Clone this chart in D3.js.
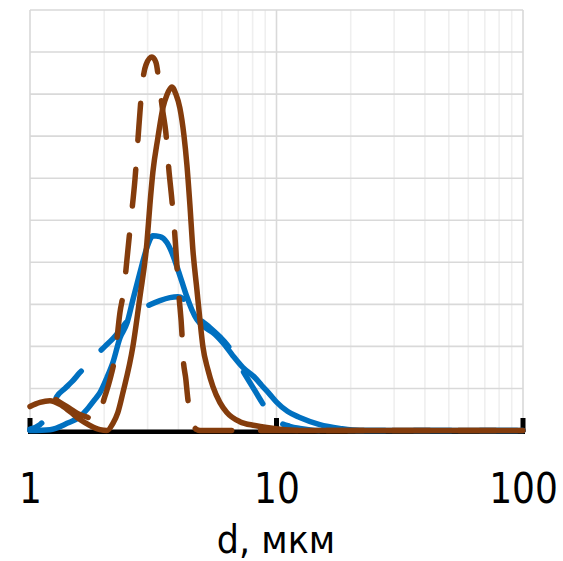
<!DOCTYPE html>
<html>
<head>
<meta charset="utf-8">
<script src="https://cdn.jsdelivr.net/npm/d3@7"></script>
<style>
  html, body { margin: 0; padding: 0; background: #ffffff; }
  svg { display: block; }
</style>
</head>
<body>
<svg id="chart" width="563" height="561"></svg>
<script>
// ---- data (d in µm, value) ----
const xTicks = [1, 10, 100];
const xTickLabels = ["1", "10", "100"];
const minorX = [2, 3, 4, 5, 6, 7, 8, 9, 20, 30, 40, 50, 60, 70, 80, 90];
const yGrid = [0, 1, 2, 3, 4, 5, 6, 7, 8, 9, 10];
const xTitle = "d, мкм";

const blueSolid = [
  [1.00, 0], [1.205, 0.02], [1.413, 0.17], [1.595, 0.33], [1.702, 0.50], [1.834, 0.74],
  [1.922, 0.90], [2.052, 1.26], [2.170, 1.62], [2.316, 2.20], [2.473, 2.55], [2.615, 3.11],
  [2.792, 3.75], [2.981, 4.35], [3.152, 4.63], [3.365, 4.61], [3.592, 4.47], [3.763, 4.23],
  [3.943, 3.90], [4.132, 3.54], [4.330, 3.18], [4.537, 2.87], [4.754, 2.64], [5.122, 2.45],
  [5.518, 2.33], [6.058, 2.09], [6.651, 1.78], [7.30, 1.50], [8.166, 1.26], [8.716, 1.07],
  [9.395, 0.86], [10.03, 0.67], [11.11, 0.45], [12.43, 0.31], [14.98, 0.14], [18.06, 0.05],
  [21.76, 0], [100, 0]
];
const blueDashed = [
  [1.00, 0.03], [1.098, 0.14], [1.15, 0.26], [1.205, 0.43], [1.286, 0.81], [1.386, 1.00],
  [1.480, 1.16], [1.595, 1.38], [1.718, 1.57], [1.869, 1.81], [2.014, 2.00], [2.150, 2.16],
  [2.316, 2.38], [2.473, 2.59], [2.665, 2.76], [2.871, 2.90], [3.065, 2.99], [3.365, 3.09],
  [3.694, 3.16], [3.981, 3.18], [4.171, 3.14], [4.371, 2.99], [4.579, 2.80], [4.889, 2.64],
  [5.366, 2.45], [5.890, 2.23], [6.347, 2.02], [6.776, 1.76], [7.100, 1.54], [7.580, 1.26],
  [8.166, 0.95], [8.964, 0.57], [9.570, 0.36], [10.31, 0.19], [11.32, 0.10], [12.43, 0.05],
  [14.98, 0], [100, 0]
];
const brownSolid = [
  [1.00, 0.57], [1.098, 0.67], [1.205, 0.71], [1.323, 0.62], [1.452, 0.45], [1.595, 0.26],
  [1.751, 0.12], [1.922, 0.02], [2.052, 0], [2.170, 0.17], [2.273, 0.43], [2.382, 0.90],
  [2.615, 2.00], [2.792, 3.18], [2.981, 4.47], [3.065, 5.37], [3.152, 6.15], [3.302, 6.96],
  [3.460, 7.67], [3.592, 7.98], [3.763, 8.17], [3.906, 8.00], [4.055, 7.67], [4.21, 7.03],
  [4.330, 6.32], [4.453, 5.37], [4.579, 4.30], [4.754, 3.35], [4.889, 2.64], [5.027, 2.00],
  [5.267, 1.45], [5.518, 1.05], [5.890, 0.67], [6.289, 0.43], [7.100, 0.21], [8.166, 0.12],
  [9.134, 0.07], [12.43, 0], [100, 0]
];
const brownDashed = [
  [1.00, 0.50], [1.098, 0.64], [1.172, 0.74], [1.240, 0.76], [1.323, 0.67], [1.452, 0.52],
  [1.565, 0.40], [1.718, 0.31], [1.886, 0.26], [1.995, 0.74], [2.110, 1.21], [2.211, 1.76],
  [2.316, 2.80], [2.404, 3.35], [2.473, 4.06], [2.567, 5.01], [2.665, 5.96], [2.740, 6.91],
  [2.818, 7.86], [2.871, 8.34], [2.953, 8.69], [3.123, 8.88], [3.241, 8.76], [3.365, 8.10],
  [3.460, 7.58], [3.558, 7.08], [3.659, 6.20], [3.763, 5.49], [3.834, 4.96], [3.906, 4.30],
  [4.018, 3.23], [4.132, 2.33], [4.171, 1.81], [4.289, 1.21], [4.371, 0.74], [4.537, 0.21],
  [4.754, 0.02], [4.889, 0], [100, 0]
];

// ---- chart ----
const svg = d3.select("#chart");
const x = d3.scaleLog().domain([1, 100]).range([30, 523]);
const y = d3.scaleLinear().domain([0, 10]).range([430.5, 10]);

const grid = svg.append("g");
grid.selectAll("line.minor").data(minorX).join("line")
  .attr("x1", d => x(d)).attr("x2", d => x(d))
  .attr("y1", y(10)).attr("y2", y(0))
  .attr("stroke", "#efefef").attr("stroke-width", 1.6);
grid.selectAll("line.hgrid").data(yGrid).join("line")
  .attr("x1", x(1)).attr("x2", x(100))
  .attr("y1", d => y(d)).attr("y2", d => y(d))
  .attr("stroke", "#d9d9d9").attr("stroke-width", 1.6);
grid.selectAll("line.major").data(xTicks).join("line")
  .attr("x1", d => x(d)).attr("x2", d => x(d))
  .attr("y1", y(10)).attr("y2", y(0))
  .attr("stroke", "#d9d9d9").attr("stroke-width", 1.6);

// axis line + inside ticks
svg.append("line")
  .attr("x1", x(1) - 2).attr("x2", x(100) + 2)
  .attr("y1", 431.8).attr("y2", 431.8)
  .attr("stroke", "#000").attr("stroke-width", 4.5);
svg.append("g").selectAll("rect").data(xTicks).join("rect")
  .attr("x", d => x(d) - 2.5).attr("y", 418)
  .attr("width", 5).attr("height", 14)
  .attr("fill", "#000");

// series
const DASH = 37, GAP = 29;
const line = d3.line().x(d => x(d[0])).y(d => y(d[1])).curve(d3.curveMonotoneX);
const series = [
  { data: blueDashed, color: "#0070C0", dashed: true, shift: -12 },
  { data: blueSolid, color: "#0070C0", dashed: false },
  { data: brownDashed, color: "#843C0C", dashed: true, shift: -2 },
  { data: brownSolid, color: "#843C0C", dashed: false }
];
const paths = svg.append("g").selectAll("path").data(series).join("path")
  .attr("d", s => line(s.data))
  .attr("fill", "none")
  .attr("stroke", s => s.color)
  .attr("stroke-width", 5.5)
  .attr("stroke-linecap", "round")
  .attr("stroke-linejoin", "round");

// align dash pattern so that a dash is centred on each dashed curve's peak
paths.filter(s => s.dashed).each(function (s) {
  const total = this.getTotalLength();
  let bestL = 0, bestY = Infinity;
  for (let L = 0; L <= total; L += 0.5) {
    const p = this.getPointAtLength(L);
    if (p.y < bestY) { bestY = p.y; bestL = L; }
  }
  const P = DASH + GAP;
  const target = bestL + s.shift;
  let off = (DASH / 2 - target) % P;
  if (off < 0) off += P;
  d3.select(this)
    .attr("stroke-dasharray", DASH + "," + GAP)
    .attr("stroke-dashoffset", off);
});

// tick labels via axis
const axis = d3.axisBottom(x).tickValues(xTicks)
  .tickFormat((d, i) => xTickLabels[i]).tickSize(0);
const ag = svg.append("g").attr("transform", "translate(0,503)").call(axis);
ag.select(".domain").remove();
ag.selectAll("text")
  .attr("y", 0).attr("dy", 0)
  .attr("transform", "scale(1,1.17)")
  .attr("font-family", "'DejaVu Sans', Verdana, sans-serif")
  .attr("font-size", 36)
  .attr("fill", "#000");

// axis title
svg.append("text")
  .attr("transform", "translate(276,553) scale(1,1.1)")
  .attr("text-anchor", "middle")
  .attr("font-family", "'DejaVu Sans', Verdana, sans-serif")
  .attr("font-size", 35)
  .attr("fill", "#000")
  .text(xTitle);
</script>
</body>
</html>
